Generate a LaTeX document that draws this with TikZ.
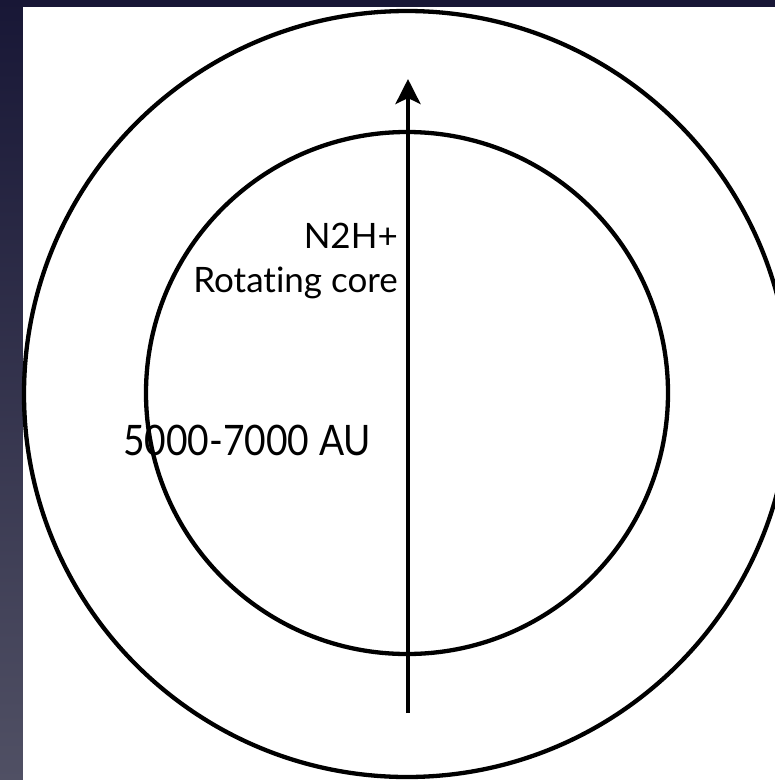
\documentclass[tikz,border=0pt]{standalone}
\usepackage{fontspec}
\setmainfont{Lato}[Ligatures=NoCommon]
\usetikzlibrary{arrows.meta}
\definecolor{bgtop}{RGB}{24,23,54}
\definecolor{bgbot}{RGB}{80,80,100}
\tikzset{
  ring/.style={draw=black, line width=4.3pt, circle, inner sep=0pt, fill=none},
  axis/.style={draw=black, line width=4.3pt, -{Stealth[length=25pt,width=25pt,inset=6pt]}},
  lbl/.style={inner sep=0pt, font=\fontsize{35}{42}\selectfont},
  biglbl/.style={inner sep=0pt, font=\fontsize{42}{50}\selectfont}
}
\begin{document}
\begin{tikzpicture}[x=1pt,y=-1pt]
\useasboundingbox (0,0) rectangle (775,780);
\clip (0,0) rectangle (775,780);
\shade[top color=bgtop, bottom color=bgbot] (0,0) rectangle (775,780);
\fill[white] (23,7) rectangle (775,780);
\node[ring, minimum size=766pt] (outer) at (407,394) {};
\node[ring, minimum size=522pt] (inner) at (407,393) {};
\coordinate (abot) at (408,713);
\coordinate (atop) at (408,79);
\draw[axis] (abot) -- (atop);
\node[lbl, anchor=base east] (mol) at (398,248) {N2H+};
\node[lbl, anchor=base east] (rot) at (398,292) {Rotating core};
\node[biglbl, anchor=base west] (size) at (123,455) {\scalebox{0.885}[1]{5000-7000 AU}};
\end{tikzpicture}
\end{document}
